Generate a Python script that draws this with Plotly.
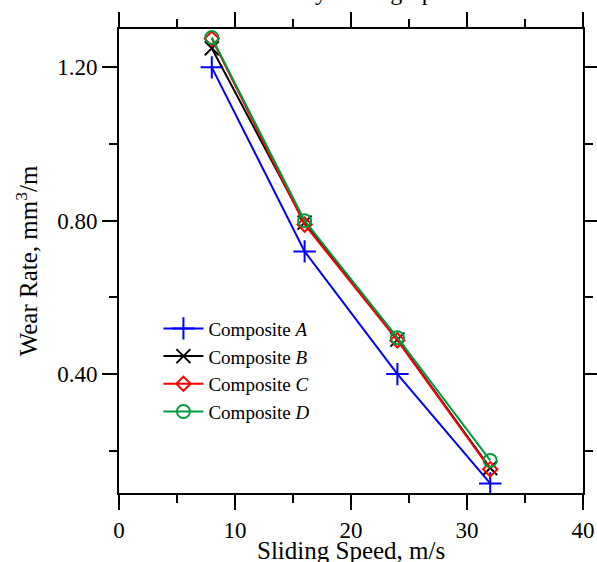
import plotly.graph_objects as go

speed = [8, 16, 24, 32]
wear_a = [1.20, 0.72, 0.40, 0.115]
wear_b = [1.25, 0.795, 0.49, 0.155]
wear_c = [1.275, 0.79, 0.488, 0.152]
wear_d = [1.278, 0.80, 0.495, 0.175]

x_ticks = [0, 10, 20, 30, 40]
y_ticks = [0.40, 0.80, 1.20]
y_tick_labels = ["0.40", "0.80", "1.20"]

FONT = "Liberation Serif, Times New Roman, serif"

series = [
    ("Composite <i>A</i>", wear_a, "#0000FF", "cross-thin-open", 16),
    ("Composite <i>B</i>", wear_b, "#000000", "x-thin-open", 14),
    ("Composite <i>C</i>", wear_c, "#FF0000", "diamond-open", 11),
    ("Composite <i>D</i>", wear_d, "#009A3E", "circle-open", 13),
]

fig = go.Figure()
for name, vals, color, sym, size in series:
    fig.add_trace(go.Scatter(
        x=speed, y=vals, name=name, mode="lines+markers",
        line=dict(color=color, width=2),
        marker=dict(symbol=sym, size=size, color=color,
                    line=dict(color=color, width=2)),
    ))

axis_common = dict(
    showline=True, linecolor="black", linewidth=2, mirror="ticks",
    ticks="outside", ticklen=15, tickwidth=2, tickcolor="black",
    showgrid=False, zeroline=False, automargin=False,
    tickfont=dict(family=FONT, size=23, color="black"),
)

fig.update_xaxes(
    range=[0, 40], tickvals=x_ticks,
    minor=dict(dtick=5, ticks="outside", ticklen=8, tickwidth=2, tickcolor="black", showgrid=False),
    **axis_common,
)
fig.update_yaxes(
    range=[0.09, 1.30], tickvals=y_ticks, ticktext=y_tick_labels,
    minor=dict(tickvals=[0.20, 0.60, 1.00], ticks="outside", ticklen=8, tickwidth=2, tickcolor="black", showgrid=False),
    title=dict(text="Wear Rate, mm<sup>3</sup>/m", font=dict(family=FONT, size=25, color="black"), standoff=12),
    **axis_common,
)

# x-axis title (placed as annotation so it can sit at the very bottom edge like the original)
fig.add_annotation(
    text="Sliding Speed, m/s", xref="paper", yref="paper",
    x=0.5, y=0.0, yshift=-57, xanchor="center", yanchor="middle",
    showarrow=False, font=dict(family=FONT, size=25, color="black"),
)

fig.add_annotation(
    text="Wear Rate by Sliding Speed", xref="paper", yref="paper",
    x=0.46, y=1.0, yshift=22, xanchor="center", yanchor="bottom",
    showarrow=False, font=dict(family=FONT, size=24, color="black"),
)

fig.update_layout(
    width=597, height=562,
    margin=dict(l=119, r=14, t=29, b=69, autoexpand=False),
    paper_bgcolor="white", plot_bgcolor="white",
    showlegend=True,
    legend=dict(
        x=0.085, y=0.265, xanchor="left", yanchor="middle",
        bgcolor="rgba(0,0,0,0)", borderwidth=0,
        font=dict(family=FONT, size=19, color="black"),
        tracegroupgap=0, itemwidth=40,
    ),
)

fig.write_html("out.html", config={"displayModeBar": False},
               post_script="document.body.style.margin='0';")
